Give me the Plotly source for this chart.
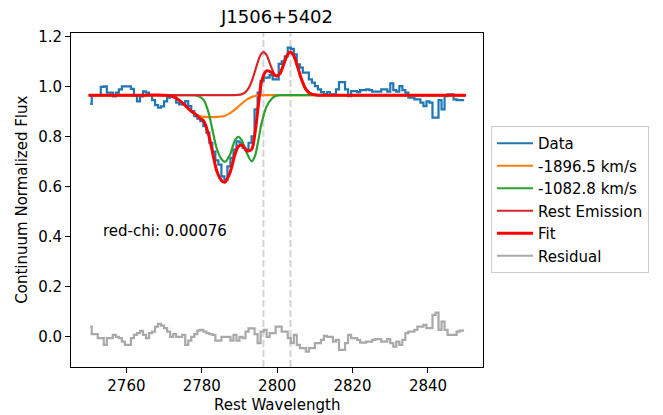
import numpy as np
import plotly.graph_objects as go

# ---------------- data ----------------
title_text = "J1506+5402"
wl_start = 2750.4
wl_step = 0.8
flux = [
    0.930, 0.965, 0.965, 0.965, 0.998, 1.000, 0.975, 0.975, 0.960, 0.975,
    0.988, 1.000, 1.000, 1.000, 0.990, 0.964, 0.940, 0.960, 0.980, 0.975,
    0.965, 0.945, 0.925, 0.915, 0.920, 0.940, 0.955, 0.960, 0.960, 0.935,
    0.928, 0.928, 0.941, 0.921, 0.901, 0.881, 0.871, 0.861, 0.841, 0.815,
    0.775, 0.740, 0.705, 0.688, 0.641, 0.628, 0.681, 0.715, 0.748, 0.781,
    0.775, 0.755, 0.748, 0.775, 0.801, 0.908, 0.975, 1.021, 1.035, 1.035,
    1.045, 1.028, 1.028, 1.090, 1.100, 1.120, 1.155, 1.150, 1.128, 1.088,
    1.075, 1.055, 1.055, 1.028, 1.015, 1.001, 0.988, 0.977, 0.968, 0.977,
    0.968, 0.968, 0.988, 1.017, 1.017, 0.988, 0.961, 0.981, 0.981, 0.977,
    0.985, 0.985, 0.988, 0.985, 0.979, 0.979, 0.979, 0.988, 0.988, 0.979,
    1.012, 0.985, 0.979, 1.001, 0.985, 0.975, 0.955, 0.955, 0.948, 0.948,
    0.935, 0.921, 0.940, 0.935, 0.875, 0.875, 0.945, 0.908, 0.961, 0.968,
    0.968, 0.948, 0.945, 0.945, 0.945,
]
residual = [
    0.041, 0.011, 0.011, -0.005, -0.005, -0.032, -0.005, -0.005, 0.008, 0.000,
    -0.005, -0.019, -0.032, -0.032, -0.005, 0.008, 0.015, 0.024, 0.008, -0.005,
    0.015, 0.021, 0.041, 0.052, 0.045, 0.035, 0.021, 0.000, 0.011, 0.000,
    0.000, 0.008, -0.032, -0.015, 0.000, 0.011, 0.025, 0.028, 0.021, 0.015,
    0.011, 0.008, -0.015, -0.015, 0.000, 0.000, 0.000, -0.015, 0.008, -0.015,
    0.000, -0.005, 0.021, 0.034, 0.034, 0.011, -0.025, 0.021, 0.028, 0.000,
    0.015, 0.015, 0.041, 0.041, 0.021, 0.021, -0.005, -0.025, 0.008, -0.032,
    -0.045, -0.045, -0.059, -0.045, -0.045, -0.025, -0.025, -0.012, 0.004, 0.000,
    0.000, -0.019, -0.012, -0.052, -0.052, -0.025, 0.008, -0.005, -0.005, -0.012,
    -0.023, -0.023, -0.019, -0.019, -0.012, -0.009, -0.009, -0.019, -0.019, -0.009,
    -0.025, -0.039, -0.019, -0.032, -0.012, 0.015, 0.021, 0.021, 0.028, 0.041,
    0.041, 0.048, 0.035, 0.035, 0.088, 0.097, 0.028, 0.061, 0.028, 0.008,
    0.008, 0.008, 0.021, 0.025, 0.025,
]

comp1_label = "-1896.5 km/s"
comp1_wl = [2750.0, 2765.0, 2769.5, 2771.0, 2772.5, 2774.0, 2775.5, 2777.0, 2778.5, 2780.0,
            2782.0, 2784.0, 2786.0, 2787.5, 2789.0, 2790.5, 2792.0, 2793.5, 2795.0, 2797.0,
            2800.0, 2850.0]
comp1_flux = [0.965, 0.965, 0.965, 0.964, 0.958, 0.945, 0.925, 0.903, 0.887, 0.879,
              0.877, 0.878, 0.882, 0.893, 0.910, 0.930, 0.948, 0.959, 0.964, 0.965,
              0.965, 0.965]

comp2_label = "-1082.8 km/s"
comp2_wl = [2750.0, 2770.0, 2777.0, 2778.5, 2779.5, 2780.5, 2781.8, 2782.7, 2784.0, 2785.3,
            2786.2, 2787.5, 2788.8, 2789.7, 2790.6, 2791.9, 2793.2, 2794.1, 2795.0, 2795.9,
            2797.2, 2798.5, 2799.6, 2801.0, 2805.0, 2850.0]
comp2_flux = [0.965, 0.965, 0.965, 0.964, 0.958, 0.946, 0.895, 0.835, 0.750, 0.708,
              0.699, 0.728, 0.785, 0.799, 0.785, 0.735, 0.701, 0.722, 0.785, 0.855,
              0.920, 0.950, 0.962, 0.965, 0.965, 0.965]

emis_wl = [2750.0, 2785.0, 2788.0, 2789.5, 2790.5, 2791.5, 2792.5, 2793.5, 2794.5, 2795.5,
           2796.35, 2797.2, 2798.2, 2799.2, 2799.95, 2800.7, 2801.7, 2802.7, 2803.53, 2804.4,
           2805.4, 2806.4, 2807.4, 2808.4, 2809.4, 2811.0, 2815.0, 2850.0]
emis_flux = [0.965, 0.965, 0.965, 0.966, 0.968, 0.976, 0.995, 1.031, 1.080, 1.123,
             1.137, 1.125, 1.086, 1.050, 1.039, 1.050, 1.087, 1.126, 1.137, 1.122,
             1.079, 1.030, 0.994, 0.975, 0.968, 0.965, 0.965, 0.965]

fit_wl = [2750.0, 2765.0, 2769.5, 2771.0, 2772.5, 2774.0, 2775.5, 2777.0, 2778.5, 2779.5,
          2780.5, 2781.8, 2782.7, 2784.0, 2785.3, 2786.2, 2787.5, 2788.8, 2789.7, 2790.6,
          2791.9, 2793.2, 2794.1, 2795.0, 2795.9, 2797.2, 2798.5, 2799.6, 2800.7, 2801.7,
          2802.7, 2803.5, 2804.4, 2805.4, 2806.4, 2807.4, 2808.4, 2809.4, 2811.0, 2815.0,
          2850.0]
fit_flux = [0.965, 0.965, 0.965, 0.964, 0.958, 0.945, 0.925, 0.903, 0.887, 0.873,
            0.862, 0.807, 0.747, 0.661, 0.623, 0.618, 0.656, 0.728, 0.760, 0.766,
            0.743, 0.748, 0.812, 0.924, 1.023, 1.062, 1.056, 1.042, 1.050, 1.087,
            1.126, 1.137, 1.122, 1.079, 1.030, 0.994, 0.975, 0.968, 0.965, 0.965,
            0.965]

rest_lines = [2796.35, 2803.53]
redchi_text = "red-chi: 0.00076"
redchi_pos = (2753.2, 0.424)

x_ticks = [2760, 2780, 2800, 2820, 2840]
y_ticks = [0.0, 0.2, 0.4, 0.6, 0.8, 1.0, 1.2]

wl = wl_start + wl_step * np.arange(len(flux))

# ---------------- figure ----------------
FONT = "DejaVu Sans"
FS = 15
fig = go.Figure()

for xv in rest_lines:
    fig.add_vline(x=xv, line=dict(color="#d3d3d3", width=2, dash="7px,3px"), layer="below")

fig.add_trace(go.Scatter(x=wl, y=flux, mode="lines", name="Data",
                         line=dict(color="#1f77b4", width=2.2, shape="hvh")))
fig.add_trace(go.Scatter(x=comp1_wl, y=comp1_flux, mode="lines", name=comp1_label,
                         line=dict(color="#ff7f0e", width=2.2, shape="spline", smoothing=0.8)))
fig.add_trace(go.Scatter(x=comp2_wl, y=comp2_flux, mode="lines", name=comp2_label,
                         line=dict(color="#2ca02c", width=2.2, shape="spline", smoothing=0.8)))
fig.add_trace(go.Scatter(x=emis_wl, y=emis_flux, mode="lines", name="Rest Emission",
                         line=dict(color="#d62728", width=2.2, shape="spline", smoothing=0.8)))
fig.add_trace(go.Scatter(x=fit_wl, y=fit_flux, mode="lines", name="Fit",
                         line=dict(color="#ff0000", width=3, shape="spline", smoothing=0.8)))
fig.add_trace(go.Scatter(x=wl, y=residual, mode="lines", name="Residual",
                         line=dict(color="#a9a9a9", width=2.2, shape="hvh")))

axis_common = dict(showgrid=False, zeroline=False, showline=True, mirror=True,
                   linecolor="black", linewidth=1, ticks="outside", ticklen=5,
                   tickwidth=1, tickcolor="black",
                   tickfont=dict(family=FONT, size=FS, color="black"))

fig.update_layout(
    width=663, height=415,
    margin=dict(l=71, r=180, t=33, b=48),
    paper_bgcolor="white", plot_bgcolor="white",
    font=dict(family=FONT, size=FS, color="black"),
    title=dict(text=title_text, x=(71 + 483) / 2 / 663, xanchor="center",
               y=1 - 17 / 415, yanchor="middle", yref="container",
               font=dict(family=FONT, size=18, color="black")),
    xaxis=dict(range=[2745.3, 2854.6], tickvals=x_ticks, **axis_common),
    yaxis=dict(range=[-0.12, 1.213], tickvals=y_ticks, tickformat=".1f", **axis_common),
    legend=dict(x=(491 - 71) / 412, xanchor="left", y=(367 - 126) / 334, yanchor="top",
                bgcolor="rgba(255,255,255,0.8)", bordercolor="#cccccc", borderwidth=1,
                itemwidth=36,
                font=dict(family=FONT, size=FS, color="black")),
    showlegend=True,
)

fig.add_annotation(x=redchi_pos[0], y=redchi_pos[1], xref="x", yref="y", text=redchi_text,
                   showarrow=False, xanchor="left", yanchor="middle",
                   font=dict(family=FONT, size=FS, color="black"))
fig.add_annotation(x=0.5, y=-(405 - 367) / 334, xref="paper", yref="paper",
                   text="Rest Wavelength", showarrow=False, xanchor="center", yanchor="middle",
                   font=dict(family=FONT, size=FS, color="black"))
fig.add_annotation(x=-(71 - 21.7) / 412, y=0.5, xref="paper", yref="paper",
                   text="Continuum Normalized Flux", showarrow=False, textangle=-90,
                   xanchor="center", yanchor="middle",
                   font=dict(family=FONT, size=FS, color="black"))

fig.write_html("out.html", config={"displayModeBar": False},
               post_script="document.body.style.margin='0';")
